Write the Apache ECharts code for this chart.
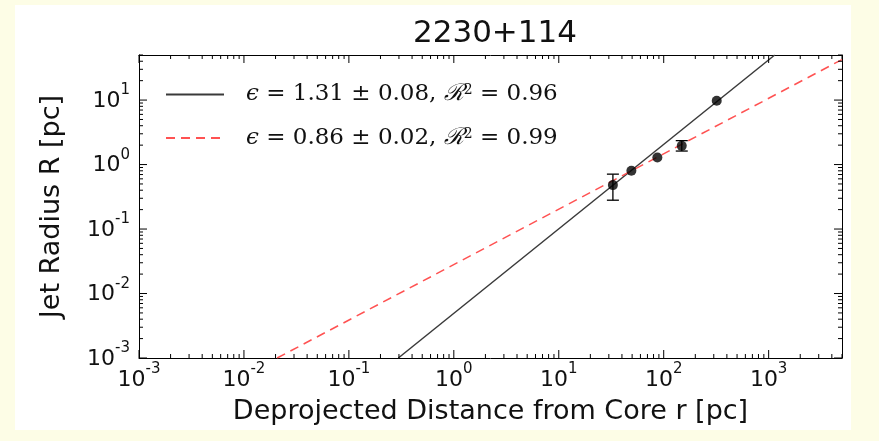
<!DOCTYPE html>
<html><head><meta charset="utf-8">
<script src="https://cdn.jsdelivr.net/npm/echarts@6/dist/echarts.min.js"></script>
<style>html,body{margin:0;padding:0;background:#fdfde6}#c{width:879px;height:441px}</style>
</head><body><div id="c"></div>
<script>
const titleText = '2230+114';
const xAxisName = 'Deprojected Distance from Core r [pc]';
const yAxisName = 'Jet Radius R [pc]';
const xMajorTicks = [0.001, 0.01, 0.1, 1, 10, 100, 1000];
const yMajorTicks = [0.001, 0.01, 0.1, 1, 10];
const xMinorTicks = [0.002,0.003,0.004,0.005,0.006,0.007,0.008,0.009,
  0.02,0.03,0.04,0.05,0.06,0.07,0.08,0.09,
  0.2,0.3,0.4,0.5,0.6,0.7,0.8,0.9,
  2,3,4,5,6,7,8,9, 20,30,40,50,60,70,80,90,
  200,300,400,500,600,700,800,900, 2000,3000,4000,5000];
const yMinorTicks = [0.002,0.003,0.004,0.005,0.006,0.007,0.008,0.009,
  0.02,0.03,0.04,0.05,0.06,0.07,0.08,0.09,
  0.2,0.3,0.4,0.5,0.6,0.7,0.8,0.9,
  2,3,4,5,6,7,8,9, 20,30,40,50];
const xRange = [0.001, 5000];
const yRange = [0.001, 50];

const pointDistance = [32.8, 49.2, 87, 148.6, 320];
const pointRadius   = [0.48, 0.80, 1.29, 1.95, 9.75];
const errLow  = [0.28, null, null, 1.62, null];
const errHigh = [0.71, null, null, 2.35, null];

const fitSolidDistance  = [0.296, 1143];
const fitSolidRadius    = [0.001, 50];
const fitDashedDistance = [0.0207, 5000];
const fitDashedRadius   = [0.001, 42.5];
const fitLabels = ['ϵ = 1.31 ± 0.08, ℛ² = 0.96', 'ϵ = 0.86 ± 0.02, ℛ² = 0.99'];
const fitRich = [
  '{e|ϵ}{t| = 1.31 ± 0.08, }{e|ℛ}{s|2}{t| = 0.96}',
  '{e|ϵ}{t| = 0.86 ± 0.02, }{e|ℛ}{s|2}{t| = 0.99}'
];

const chart = echarts.init(document.getElementById('c'), null, {renderer: 'canvas'});
const sans = 'DejaVu Sans';
const serif = 'DejaVu Serif';
const black = '#000';
const MAJOR_LEN = 8, MINOR_LEN = 4;

function powLabel(v) {
  const e = Math.round(Math.log10(v));
  return '{b|10}{s|' + e + '}';
}
const tickRich = {
  b: {fontFamily: sans, fontSize: 22, lineHeight: 24, color: '#111', verticalAlign: 'bottom'},
  s: {fontFamily: sans, fontSize: 15, lineHeight: 15, color: '#111', padding: [0, 0, 14, 0], verticalAlign: 'bottom'}
};

function axisBase(pos, range, withLabel, extra) {
  return Object.assign({
    type: 'log', logBase: 10, min: range[0], max: range[1], position: pos,
    axisLine: {show: true, onZero: false, lineStyle: {color: black, width: 1}},
    axisTick: {show: false},
    axisLabel: withLabel ? {show: true, customValues: withLabel, formatter: powLabel, rich: tickRich,
      margin: pos === 'bottom' ? 9 : 9} : {show: false},
    splitLine: {show: false},
    minorTick: {show: false},
    minorSplitLine: {show: false}
  }, extra || {});
}

const pts = pointDistance.map((d, i) => [d, pointRadius[i]]);
const errs = [];
pointDistance.forEach((d, i) => { if (errLow[i] != null) errs.push([d, errLow[i], errHigh[i]]); });

// tick marks: [value, value, axis (0 = x, 1 = y), length]
const tickMarks = [];
xMajorTicks.forEach(v => tickMarks.push([v, v, 0, MAJOR_LEN]));
xMinorTicks.forEach(v => tickMarks.push([v, v, 0, MINOR_LEN]));
yMajorTicks.forEach(v => tickMarks.push([v, v, 1, MAJOR_LEN]));
yMinorTicks.forEach(v => tickMarks.push([v, v, 1, MINOR_LEN]));

const option = {
  backgroundColor: '#fdfde6',
  animation: false,
  graphic: [{type: 'rect', z: -10, shape: {x: 15, y: 5, width: 836, height: 425}, style: {fill: '#fff'}}],
  title: {text: titleText, left: 490, top: 13, textAlign: 'center',
    textStyle: {fontFamily: sans, fontSize: 31, fontWeight: 'normal', color: '#111'}},
  grid: {left: 139, right: 37, top: 55, bottom: 83, containLabel: false, outerBoundsMode: 'none'},
  legend: {
    left: 165, top: 83, orient: 'vertical', padding: 0, itemGap: 19,
    itemWidth: 58, itemHeight: 14, selectedMode: false,
    data: fitLabels,
    itemStyle: {opacity: 0, borderWidth: 0},
    formatter: name => fitRich[fitLabels.indexOf(name)],
    textStyle: {
      padding: [0, 0, 0, 17],
      rich: {
        e: {fontFamily: serif, fontSize: 23, fontStyle: 'italic', color: '#111', lineHeight: 26},
        t: {fontFamily: serif, fontSize: 23, color: '#111', lineHeight: 26},
        s: {fontFamily: serif, fontSize: 14, color: '#111', lineHeight: 14, padding: [0, 0, 10, 0], verticalAlign: 'bottom'}
      }
    }
  },
  xAxis: [
    axisBase('bottom', xRange, xMajorTicks, {
      name: xAxisName, nameLocation: 'middle', nameGap: 40,
      nameTextStyle: {fontFamily: sans, fontSize: 27, color: '#111'}
    }),
    axisBase('top', xRange, null)
  ],
  yAxis: [
    axisBase('left', yRange, yMajorTicks, {
      name: yAxisName, nameLocation: 'middle', nameGap: 74,
      nameTextStyle: {fontFamily: sans, fontSize: 27, color: '#111'}
    }),
    axisBase('right', yRange, null)
  ],
  series: [
    {type: 'line', name: fitLabels[0], xAxisIndex: 0, yAxisIndex: 0,
      data: fitSolidDistance.map((d, i) => [d, fitSolidRadius[i]]),
      symbol: 'none', showSymbol: false, clip: true, z: 2,
      lineStyle: {color: '#3a3a3a', width: 1.5}, itemStyle: {color: '#3a3a3a'}},
    {type: 'line', name: fitLabels[1], xAxisIndex: 0, yAxisIndex: 0,
      data: fitDashedDistance.map((d, i) => [d, fitDashedRadius[i]]),
      symbol: 'none', showSymbol: false, clip: true, z: 2,
      lineStyle: {color: '#ff5252', width: 1.5, type: [9, 6]}, itemStyle: {color: '#ff5252'}},
    {type: 'custom', xAxisIndex: 0, yAxisIndex: 0, z: 5, silent: true, data: tickMarks,
      encode: {x: 0, y: 1},
      renderItem: (params, api) => {
        const v = api.value(0), axis = api.value(2), len = api.value(3);
        const st = {stroke: black, lineWidth: 1};
        if (axis === 0) {
          const b = api.coord([v, yRange[0]]), t = api.coord([v, yRange[1]]);
          return {type: 'group', children: [
            {type: 'line', shape: {x1: b[0], y1: b[1], x2: b[0], y2: b[1] - len}, style: st},
            {type: 'line', shape: {x1: t[0], y1: t[1], x2: t[0], y2: t[1] + len}, style: st}
          ]};
        }
        const l = api.coord([xRange[0], v]), r = api.coord([xRange[1], v]);
        return {type: 'group', children: [
          {type: 'line', shape: {x1: l[0], y1: l[1], x2: l[0] + len, y2: l[1]}, style: st},
          {type: 'line', shape: {x1: r[0], y1: r[1], x2: r[0] - len, y2: r[1]}, style: st}
        ]};
      }},
    {type: 'custom', xAxisIndex: 0, yAxisIndex: 0, z: 3, data: errs,
      encode: {x: 0, y: [1, 2]},
      renderItem: (params, api) => {
        const x = api.value(0);
        const lo = api.coord([x, api.value(1)]);
        const hi = api.coord([x, api.value(2)]);
        const hw = 6;
        const st = {stroke: black, lineWidth: 1.3};
        return {type: 'group', children: [
          {type: 'line', shape: {x1: lo[0], y1: lo[1], x2: hi[0], y2: hi[1]}, style: st},
          {type: 'line', shape: {x1: lo[0] - hw, y1: lo[1], x2: lo[0] + hw, y2: lo[1]}, style: st},
          {type: 'line', shape: {x1: hi[0] - hw, y1: hi[1], x2: hi[0] + hw, y2: hi[1]}, style: st}
        ]};
      }},
    {type: 'scatter', xAxisIndex: 0, yAxisIndex: 0, z: 4, data: pts, symbol: 'circle', symbolSize: 10,
      itemStyle: {color: '#000'}}
  ]
};
chart.setOption(option);
</script></body></html>
